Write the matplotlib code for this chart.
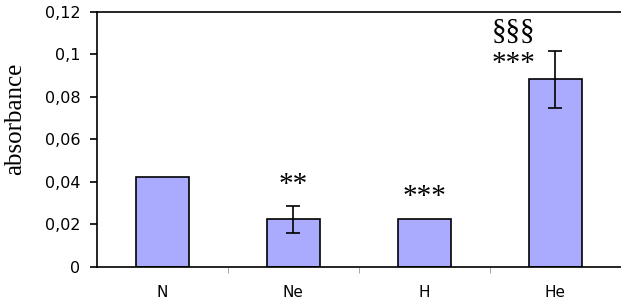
import numpy as np
import matplotlib.pyplot as plt

groups = ["N", "Ne", "H", "He"]
absorb = [0.0424, 0.0224, 0.0227, 0.0884]
err_lo = [None, 0.0064, None, 0.0134]
err_hi = [None, 0.0064, None, 0.0132]
stars = ["", "**", "***", "***"]
star_y = [None, 0.0352, 0.0296, 0.0922]
sect = ["", "", "", "§§§"]
sect_y = [None, None, None, 0.1075]

fig = plt.figure(figsize=(6.21, 3.04), dpi=100)
ax = fig.add_axes([0.156, 0.122, 0.844, 0.839])

x = np.arange(len(groups))
ax.bar(x, absorb, width=0.4, color="#aaaaff", edgecolor="black", linewidth=1.2, zorder=2)

for i, v in enumerate(absorb):
    if err_lo[i] is not None:
        ax.errorbar(i, v, yerr=[[err_lo[i]], [err_hi[i]]], fmt="none",
                    ecolor="black", elinewidth=1.2, capsize=5, capthick=1.2, zorder=3)

# significance marks (the He ones sit left of the error bar)
serif = "Liberation Serif"
for i in range(len(groups)):
    dx = -0.32 if i == 3 else 0
    if stars[i]:
        ax.text(i + dx, star_y[i], stars[i], ha="center", va="baseline",
                fontsize=21, family=serif)
    if sect[i]:
        ax.text(i + dx, sect_y[i], sect[i], ha="center", va="baseline",
                fontsize=21, family=serif)

ax.set_xlim(-0.5, 3.5)
ax.set_ylim(0, 0.12)
ax.set_yticks(np.arange(0, 0.121, 0.02))
ax.set_yticklabels(["0", "0,02", "0,04", "0,06", "0,08", "0,1", "0,12"])
ax.set_xticks(x)
ax.set_xticklabels(groups)
ax.set_xticks([0.5, 1.5, 2.5], minor=True)
ax.tick_params(axis="x", which="major", length=0, pad=13, labelsize=11)
ax.tick_params(axis="x", which="minor", length=4, color="#999999")
ax.tick_params(axis="y", length=5, width=1.2, labelsize=11.5, pad=7)

ax.set_ylabel("absorbance", family=serif, fontsize=18)
ax.yaxis.set_label_coords(-0.135, 0.58)

ax.spines["right"].set_visible(False)
for s in ["left", "top", "bottom"]:
    ax.spines[s].set_linewidth(1.2)

fig.savefig("out.png", dpi=100)
